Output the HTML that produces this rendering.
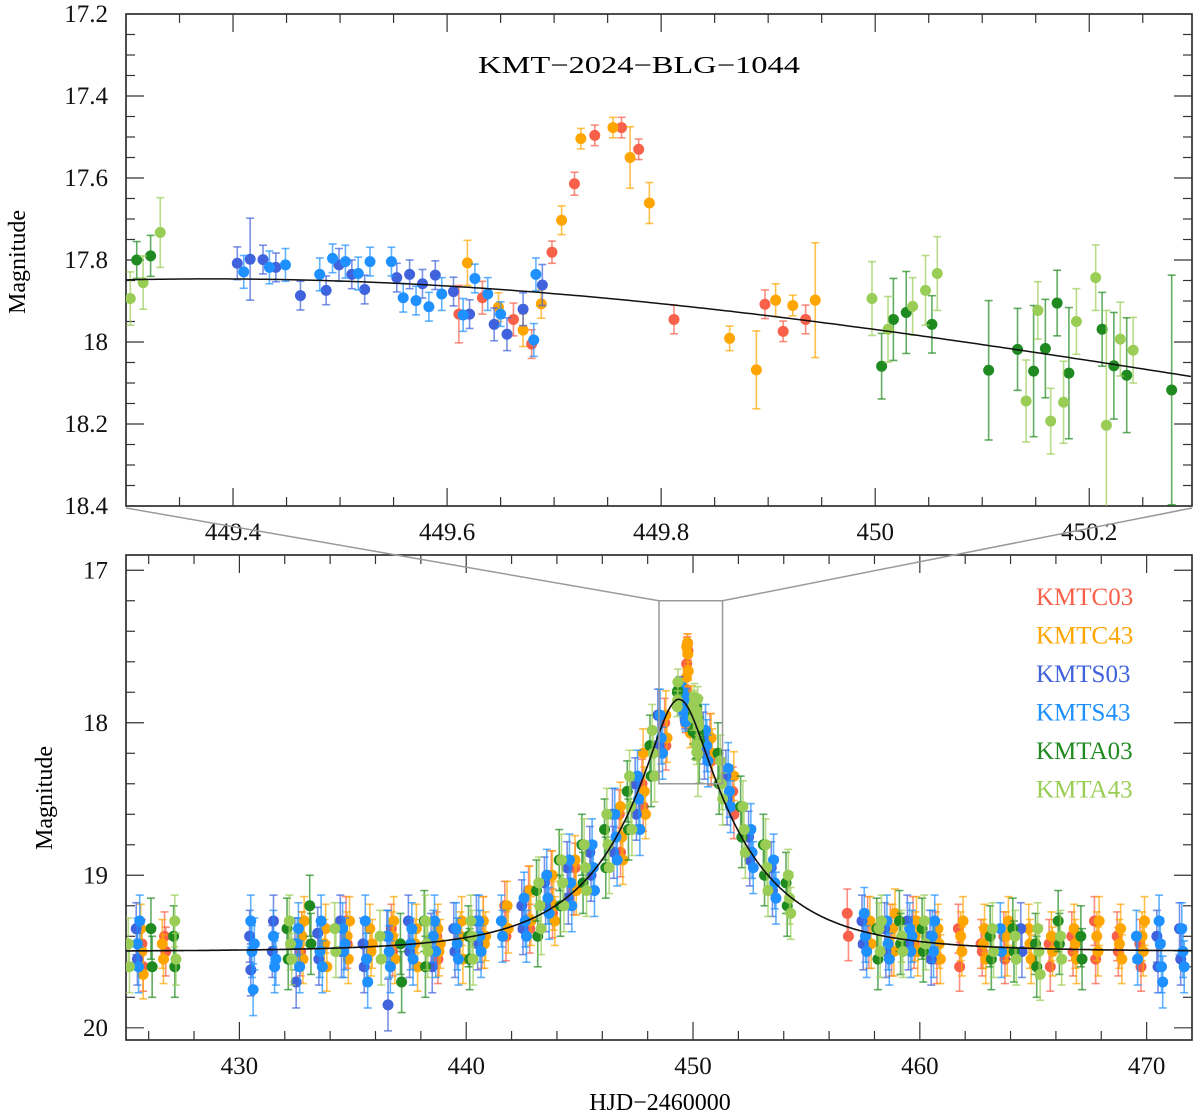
<!DOCTYPE html>
<html><head><meta charset="utf-8"><style>
html,body{margin:0;padding:0;background:#fff;}
svg{display:block;font-family:"Liberation Serif","DejaVu Serif",serif;}
</style></head><body>
<svg id="chart" width="1200" height="1117" viewBox="0 0 1200 1117" xmlns="http://www.w3.org/2000/svg">
<g id="topPanel"></g>
<g id="botPanel"></g>
<g id="connect"></g>
<text x="478" y="73" font-size="24" textLength="322" lengthAdjust="spacingAndGlyphs">KMT−2024−BLG−1044</text>
<text transform="translate(25,262) rotate(-90)" text-anchor="middle" font-size="24">Magnitude</text>
<text transform="translate(52,798) rotate(-90)" text-anchor="middle" font-size="24">Magnitude</text>
<text x="660" y="1110" text-anchor="middle" font-size="24">HJD−2460000</text>
<g id="legend"></g>
</svg>
<script>
// ---- data ----
const seriesNames = ["KMTC03","KMTC43","KMTS03","KMTS43","KMTA03","KMTA43"];
const seriesColors = ["#f8604a","#ffa500","#4062dc","#1e90ff","#1f8a1f","#9acd55"];
// top-panel points [HJD, mag, err]
const topC03 = [[449.611,17.932,0.07],[449.633,17.892,0.04],[449.662,17.945,0.04],[449.679,18.005,0.035],[449.698,17.781,0.027],[449.719,17.614,0.028],[449.738,17.496,0.025],[449.763,17.477,0.025],[449.779,17.530,0.025],[449.812,17.945,0.035],[449.897,17.908,0.035],[449.914,17.974,0.025],[449.935,17.945,0.035]];
const topC43 = [[449.619,17.807,0.055],[449.648,17.915,0.035],[449.671,17.971,0.04],[449.688,17.907,0.035],[449.707,17.703,0.035],[449.725,17.504,0.025],[449.755,17.477,0.025],[449.771,17.550,0.075],[449.789,17.661,0.05],[449.864,17.991,0.03],[449.889,18.068,0.095],[449.907,17.898,0.04],[449.923,17.911,0.025],[449.944,17.898,0.14]];
const topS03 = [[449.404,17.808,0.04],[449.416,17.798,0.1],[449.428,17.799,0.035],[449.440,17.818,0.035],[449.463,17.887,0.035],[449.487,17.874,0.035],[449.499,17.812,0.04],[449.511,17.835,0.035],[449.523,17.872,0.035],[449.553,17.843,0.035],[449.565,17.835,0.035],[449.577,17.858,0.035],[449.589,17.837,0.035],[449.606,17.877,0.035],[449.621,17.932,0.035],[449.644,17.957,0.04],[449.656,17.981,0.04],[449.671,17.920,0.04],[449.689,17.861,0.05]];
const topS43 = [[449.410,17.829,0.04],[449.434,17.818,0.04],[449.449,17.812,0.04],[449.481,17.835,0.04],[449.493,17.796,0.035],[449.505,17.804,0.04],[449.517,17.833,0.04],[449.528,17.804,0.035],[449.548,17.804,0.035],[449.559,17.892,0.035],[449.571,17.899,0.035],[449.583,17.914,0.035],[449.595,17.883,0.04],[449.615,17.934,0.04],[449.626,17.845,0.035],[449.638,17.883,0.04],[449.650,17.932,0.03],[449.683,17.835,0.04],[449.681,17.995,0.04]];
const topA03 = [[449.310,17.800,0.045],[449.323,17.790,0.05],[450.006,18.059,0.08],[450.017,17.945,0.1],[450.029,17.928,0.1],[450.053,17.957,0.07],[450.106,18.069,0.17],[450.133,18.018,0.1],[450.148,18.071,0.16],[450.159,18.016,0.12],[450.170,17.905,0.08],[450.181,18.076,0.16],[450.212,17.969,0.09],[450.223,18.058,0.13],[450.235,18.081,0.14],[450.277,18.117,0.28]];
const topA43 = [[449.304,17.894,0.065],[449.316,17.855,0.065],[449.332,17.733,0.085],[449.997,17.894,0.09],[450.012,17.969,0.08],[450.035,17.913,0.07],[450.047,17.874,0.085],[450.058,17.833,0.09],[450.141,18.144,0.1],[450.152,17.923,0.07],[450.164,18.193,0.08],[450.176,18.147,0.1],[450.188,17.950,0.08],[450.206,17.843,0.08],[450.216,18.203,0.28],[450.229,17.993,0.09],[450.241,18.020,0.08]];
// full-season nightly clusters [HJD, mag, mag, ...]
const nightC03 = [[425.7,19.45,19.6],[426.7,19.4,19.5],[432.7,19.5,19.4],[434.7,19.3,19.45],[436.7,19.35,19.5],[438.7,19.4,19.55],[440.7,19.45,19.3],[441.7,19.2,19.4],[442.75,19.1,19.35],[443.75,19.0,19.25],[444.75,19.1,18.95],[446.75,18.6,18.85],[447.75,18.4,18.55],[448.75,18.0,18.15],[450.75,18.1,18.25],[451.75,18.45,18.6],[456.8,19.25,19.4],[457.7,19.3,19.45],[458.7,19.35,19.5],[459.7,19.3,19.45],[460.7,19.4,19.55],[461.7,19.35,19.6],[462.7,19.45,19.5],[463.7,19.4,19.55],[465.7,19.45,19.6],[466.7,19.4,19.5],[467.7,19.3,19.55],[468.7,19.4,19.5],[469.7,19.45,19.6]];
const nightC43 = [[425.65,19.35,19.5,19.65],[426.6,19.45,19.55],[432.75,19.4,19.55,19.3],[433.75,19.45,19.35,19.6],[434.75,19.4,19.55,19.3],[435.75,19.35,19.5,19.45],[436.75,19.4,19.3,19.55],[437.75,19.45,19.35,19.6],[438.75,19.35,19.5,19.45],[439.75,19.4,19.3,19.55],[440.75,19.3,19.45,19.4],[441.8,19.2,19.35],[442.8,19.1,19.3],[443.8,19.0,19.2,19.3],[444.8,18.9,19.1],[446.8,18.55,18.75,18.9],[447.8,18.2,18.45,18.6],[448.8,17.95,18.1],[450.8,18.1,18.2],[451.8,18.35],[457.8,19.3,19.45],[458.8,19.35,19.5,19.25],[459.8,19.4,19.3,19.5],[460.8,19.35,19.45,19.55],[461.8,19.4,19.5,19.3],[462.8,19.45,19.35,19.55],[463.8,19.4,19.5,19.3],[464.8,19.35,19.45,19.55],[465.8,19.4,19.5],[466.8,19.35,19.45,19.55],[467.8,19.4,19.5,19.3],[468.8,19.45,19.35,19.55],[469.8,19.4,19.5,19.3]];
const nightS03 = [[425.45,19.35,19.55],[430.45,19.4,19.62],[431.45,19.5,19.3],[432.45,19.45,19.7],[433.45,19.38,19.55],[434.45,19.3,19.5],[435.45,19.45,19.6],[436.5,19.4,19.85],[437.45,19.3,19.5],[438.45,19.42,19.6],[439.45,19.35,19.5],[440.45,19.3,19.45],[442.45,19.2,19.35],[443.45,19.05,19.2],[444.45,18.95,19.15],[445.45,18.85,19.0],[446.45,18.6,18.85],[447.45,18.4,18.6],[448.45,17.95,18.15],[450.45,18.1,18.2],[451.45,18.35,18.5],[452.45,18.75,18.9],[453.45,18.95,19.1],[457.45,19.3,19.45],[458.45,19.35,19.5],[459.45,19.3,19.45],[460.45,19.4,19.55],[464.45,19.35,19.5],[470.45,19.4,19.6],[471.45,19.35,19.55]];
const nightS43 = [[425.5,19.45,19.6,19.3],[430.5,19.3,19.5,19.75,19.45],[431.5,19.4,19.6,19.55],[432.55,19.45,19.35,19.6],[433.55,19.5,19.3,19.6],[434.55,19.35,19.5,19.45],[435.55,19.3,19.55,19.7],[436.55,19.4,19.5,19.6],[437.55,19.45,19.35,19.55],[438.55,19.4,19.3,19.5],[439.55,19.35,19.45,19.55],[440.55,19.3,19.4,19.5],[441.55,19.3,19.4],[442.55,19.15,19.3,19.4],[443.55,19.0,19.15,19.25],[444.55,18.9,19.05,19.2],[445.55,18.8,18.95,19.1],[446.55,18.6,18.75,18.9],[447.55,18.35,18.5,18.7],[448.55,17.95,18.1,18.2],[450.55,18.05,18.15,18.25],[451.55,18.3,18.45,18.55],[452.55,18.7,18.85,18.95],[453.55,18.9,19.05,19.15],[457.55,19.25,19.4,19.5],[458.55,19.3,19.45,19.55],[459.55,19.35,19.5,19.4],[460.55,19.4,19.5,19.3],[463.55,19.35,19.5],[469.55,19.4,19.55],[470.55,19.3,19.45,19.6,19.7],[471.55,19.35,19.5,19.6]];
const nightA03 = [[426.1,19.35,19.6],[427.1,19.4,19.6],[432.1,19.35,19.55],[433.1,19.2,19.45],[437.1,19.45,19.7],[438.15,19.3,19.6],[440.1,19.4,19.55],[443.1,19.1,19.4],[444.1,18.9,19.2],[445.1,18.8,19.05],[446.1,18.7,18.95],[447.1,18.45,18.7],[448.1,18.15,18.35],[451.1,18.2,18.4],[452.1,18.55,18.75],[453.1,18.8,19.0],[454.1,19.05,19.2],[458.1,19.35,19.55],[459.1,19.3,19.45],[460.1,19.35,19.5],[463.1,19.4,19.55],[464.1,19.35,19.5],[465.1,19.45,19.6],[466.1,19.3,19.45],[467.1,19.4,19.55]];
const nightA43 = [[425.1,19.45,19.6],[427.15,19.3,19.55],[432.2,19.3,19.45,19.55],[434.2,19.35,19.5],[436.2,19.4,19.55],[438.2,19.3,19.45,19.5],[440.2,19.3,19.4,19.55],[443.2,19.05,19.2,19.35],[444.2,18.9,19.05,19.2],[445.2,18.8,18.95,19.1],[446.2,18.6,18.8,18.95],[447.2,18.35,18.55,18.7],[448.2,18.05,18.2,18.35],[451.2,18.25,18.4,18.5],[452.2,18.55,18.7,18.85],[453.2,18.8,18.95,19.1],[454.2,19.0,19.15,19.25],[458.2,19.35,19.5,19.3],[459.2,19.4,19.5],[460.2,19.3,19.45],[463.2,19.35,19.5],[464.2,19.4,19.55],[465.2,19.35,19.5,19.65],[466.2,19.4,19.55]];
const nightErr = [0.16,0.16,0.17,0.17,0.2,0.17];
// PSPL model [t0, u0, tE, baseline mag]
const modelParams = [449.38, 0.222, 5.4, 19.5];
const topXTicks = [449.4,449.6,449.8,450,450.2];
const topXTickLabels = ["449.4","449.6","449.8","450","450.2"];
const topYTicks = [17.2,17.4,17.6,17.8,18,18.2,18.4];
const topYTickLabels = ["17.2","17.4","17.6","17.8","18","18.2","18.4"];
const botXTicks = [430,440,450,460,470];
const botXTickLabels = ["430","440","450","460","470"];
const botYTicks = [17,18,19,20];
const botYTickLabels = ["17","18","19","20"];
const zoomBox = [448.5,451.3,17.2,18.4];

// ---- drawing ----
const NS="http://www.w3.org/2000/svg";
function mk(parent,tag,attrs){const e=document.createElementNS(NS,tag);for(const k in attrs)e.setAttribute(k,attrs[k]);parent.appendChild(e);return e;}
const T={L:126,R:1192,Tp:14,B:506,x0:449.3,x1:450.296,y0:17.2,y1:18.4};
const Bt={L:126,R:1192,Tp:555,B:1040,x0:425,x1:472,y0:16.9,y1:20.08};
function ax(P){return{x:v=>P.L+(v-P.x0)/(P.x1-P.x0)*(P.R-P.L),y:v=>P.Tp+(v-P.y0)/(P.y1-P.y0)*(P.B-P.Tp)};}
const tA=ax(T), bA=ax(Bt);
function model(t){const[t0,u0,tE,base]=modelParams;const u=Math.sqrt(u0*u0+((t-t0)/tE)**2);const A=(u*u+2)/(u*Math.sqrt(u*u+4));return base-2.5*Math.log10(A);}

function frame(g,P,A,xt,xl,yt,yl,xminor,yminor){
  const cp='clip'+P.Tp;
  const d=mk(g,'defs',{});const c=mk(d,'clipPath',{id:cp});mk(c,'rect',{x:P.L,y:P.Tp,width:P.R-P.L,height:P.B-P.Tp});
  const fr=mk(g,'rect',{x:P.L,y:P.Tp,width:P.R-P.L,height:P.B-P.Tp,fill:'none',stroke:'#222','stroke-width':1.6});
  
  const tk=mk(g,'g',{stroke:'#333','stroke-width':1.2});
  
  let start=Math.ceil(P.x0/xminor-1e-6);
  for(let i=start;i*xminor<=P.x1+1e-9;i++){const v=i*xminor;const maj=xt.some(q=>Math.abs(q-v)<1e-6);const x=A.x(v);const len=maj?18:9;
    mk(tk,'line',{x1:x,y1:P.B,x2:x,y2:P.B-len});mk(tk,'line',{x1:x,y1:P.Tp,x2:x,y2:P.Tp+len});}
  start=Math.ceil(P.y0/yminor-1e-6);
  for(let i=start;i*yminor<=P.y1+1e-9;i++){const v=i*yminor;const maj=yt.some(q=>Math.abs(q-v)<1e-6);const y=A.y(v);const len=maj?18:9;
    mk(tk,'line',{x1:P.L,y1:y,x2:P.L+len,y2:y});mk(tk,'line',{x1:P.R,y1:y,x2:P.R-len,y2:y});}
  xt.forEach((v,i)=>{const t=mk(g,'text',{x:A.x(v),y:P.B+34,'text-anchor':'middle','font-size':25,fill:'#111'});t.textContent=xl[i];
    });
  yt.forEach((v,i)=>{const t=mk(g,'text',{x:P.L-18,y:A.y(v)+8,'text-anchor':'end','font-size':25,fill:'#111'});t.textContent=yl[i];
    });
  return cp;
}
function pt(g,x,y,ey,col,r){
  const grp=mk(g,'g',{});
  
  mk(grp,'line',{x1:x,y1:y-ey,x2:x,y2:y+ey,stroke:col,'stroke-width':1.6,'stroke-opacity':0.7});
  mk(grp,'line',{x1:x-4,y1:y-ey,x2:x+4,y2:y-ey,stroke:col,'stroke-width':1.6,'stroke-opacity':0.7});
  mk(grp,'line',{x1:x-4,y1:y+ey,x2:x+4,y2:y+ey,stroke:col,'stroke-width':1.6,'stroke-opacity':0.7});
  mk(grp,'circle',{cx:x,cy:y,r:r,fill:col});
}
const tops=[topC03,topC43,topS03,topS43,topA03,topA43];
const nights=[nightC03,nightC43,nightS03,nightS43,nightA03,nightA43];

// top panel
const tg=document.getElementById('topPanel');
const tcp=frame(tg,T,tA,topXTicks,topXTickLabels,topYTicks,topYTickLabels,0.05,0.05);
const tdata=mk(tg,'g',{'clip-path':`url(#${tcp})`});

tops.forEach((arr,s)=>arr.forEach(p=>pt(tdata,tA.x(p[0]),tA.y(p[1]),p[2]*(T.B-T.Tp)/(T.y1-T.y0),seriesColors[s],5.5)));
let d='';for(let t=T.x0;t<=T.x1+0.001;t+=0.005){d+=(d?'L':'M')+tA.x(t).toFixed(1)+','+tA.y(model(t)).toFixed(1);}
const tm=mk(tdata,'path',{d:d,fill:'none',stroke:'#111','stroke-width':1.5});


// bottom panel
const bg=document.getElementById('botPanel');
const bcp=frame(bg,Bt,bA,botXTicks,botXTickLabels,botYTicks,botYTickLabels,2,0.2);
const bdata=mk(bg,'g',{'clip-path':`url(#${bcp})`});

const scaleB=(Bt.B-Bt.Tp)/(Bt.y1-Bt.y0);
nights.forEach((arr,s)=>{
  arr.forEach(c=>{for(let k=1;k<c.length;k++){pt(bdata,bA.x(c[0])+(k-1)*1.2,bA.y(c[k]),nightErr[s]*scaleB,seriesColors[s],5.5);}});
  tops[s].forEach(p=>pt(bdata,bA.x(p[0]),bA.y(p[1]),Math.max(p[2],0.06)*scaleB,seriesColors[s],5.5));
});
d='';for(let t=Bt.x0;t<=Bt.x1+0.001;t+=0.05){d+=(d?'L':'M')+bA.x(t).toFixed(1)+','+bA.y(model(t)).toFixed(1);}
const bm=mk(bdata,'path',{d:d,fill:'none',stroke:'#111','stroke-width':1.6});


// zoom box & connectors
const cg=document.getElementById('connect');
const bx0=bA.x(zoomBox[0]),bx1=bA.x(zoomBox[1]),by0=bA.y(zoomBox[2]),by1=bA.y(zoomBox[3]);
const zb=mk(cg,'rect',{x:bx0,y:by0,width:bx1-bx0,height:by1-by0,fill:'none',stroke:'#999','stroke-width':1.5});

const l1=mk(cg,'line',{x1:T.L,y1:T.B+2,x2:bx0,y2:by0,stroke:'#999','stroke-width':1.5});

const l2=mk(cg,'line',{x1:T.R,y1:T.B+2,x2:bx1,y2:by0,stroke:'#999','stroke-width':1.5});


// legend
const lg=document.getElementById('legend');
seriesNames.forEach((n,i)=>{const t=mk(lg,'text',{x:1036,y:605+i*38.5,'font-size':25,fill:seriesColors[i]});t.textContent=n;
  });
</script>
</body></html>
